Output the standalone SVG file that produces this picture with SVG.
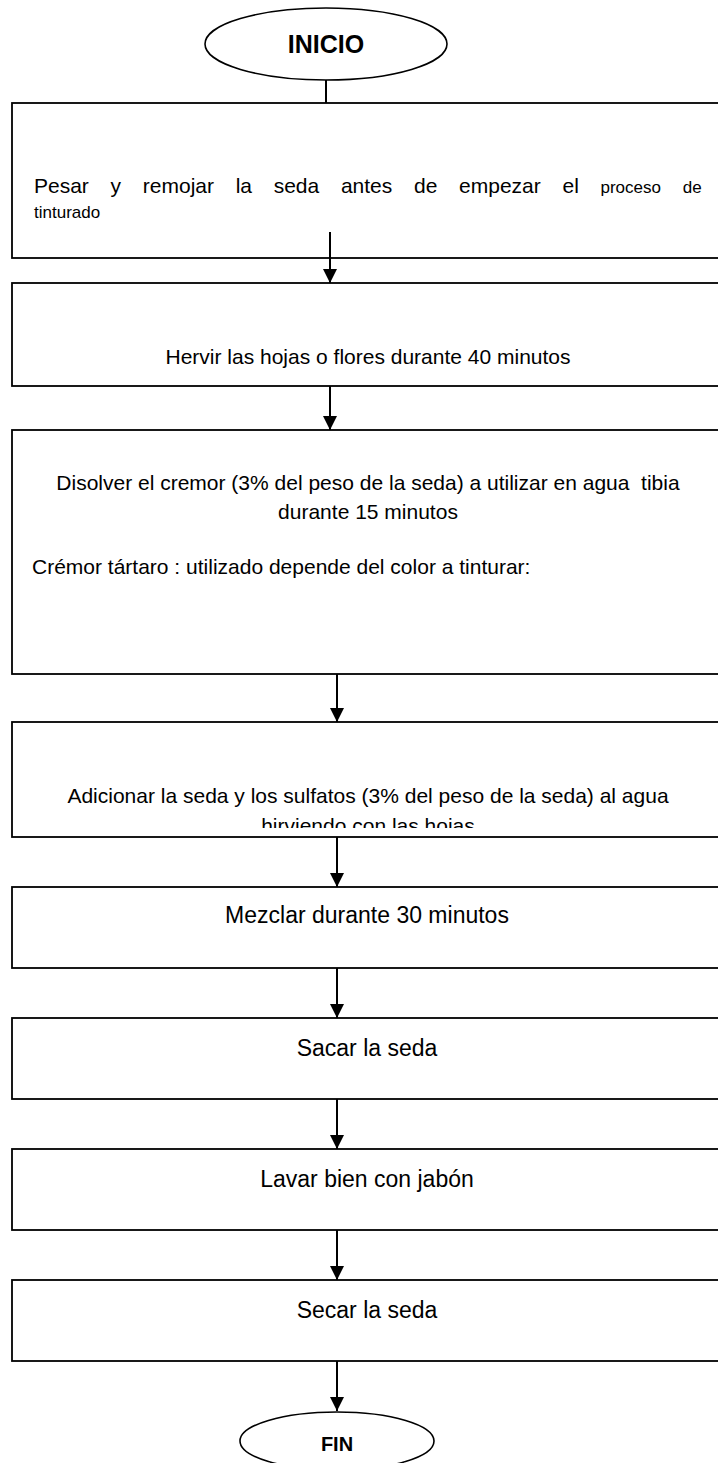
<svg xmlns="http://www.w3.org/2000/svg" width="718" height="1463" viewBox="0 0 718 1463">
<defs>
<style>
.box{fill:#fff;stroke:#000;stroke-width:1.8}
.term{fill:#fff;stroke:#000;stroke-width:1.6}
.conn{stroke:#000;stroke-width:2;fill:none}
.t{font-family:"Liberation Sans",Arial,sans-serif;fill:#000}
.s21{font-size:21px}
.s17{font-size:17px}
.big{font-size:23px}
.bold{font-weight:bold}
.mid{text-anchor:middle}
.pre{white-space:pre}
</style>
<marker id="ah" viewBox="0 0 14 14" refX="14" refY="7" markerWidth="14" markerHeight="14" markerUnits="userSpaceOnUse" orient="auto">
<path d="M0,0 L14,7 L0,14 z" fill="#000"/>
</marker>
<clipPath id="clip4"><rect x="0" y="722" width="718" height="106"/></clipPath>
</defs>
<rect width="718" height="1463" fill="#fff"/>

<g id="inicio">
<ellipse class="term" cx="326" cy="44" rx="121" ry="36"/>
<text class="t bold mid" x="326" y="53" font-size="25">INICIO</text>
</g>

<g id="step1">
<rect class="box" x="12" y="103" width="730" height="155"/>
<text class="t" y="193"><tspan class="s21" x="34">Pesar</tspan><tspan class="s21" x="110.6">y</tspan><tspan class="s21" x="142.8">remojar</tspan><tspan class="s21" x="235.7">la</tspan><tspan class="s21" x="273.7">seda</tspan><tspan class="s21" x="340.9">antes</tspan><tspan class="s21" x="414">de</tspan><tspan class="s21" x="459.1">empezar</tspan><tspan class="s21" x="562.5">el</tspan><tspan class="s17" x="600.5">proceso</tspan><tspan class="s17" x="682.7">de</tspan></text>
<text class="t s17" x="34" y="218">tinturado</text>
</g>

<g id="step2">
<rect class="box" x="12" y="283" width="730" height="103"/>
<text class="t s21 mid" x="368" y="364">Hervir las hojas o flores durante 40 minutos</text>
</g>

<g id="step3">
<rect class="box" x="12" y="430" width="730" height="244"/>
<text class="t s21 mid pre" x="368" y="490" xml:space="preserve">Disolver el cremor (3% del peso de la seda) a utilizar en agua  tibia</text>
<text class="t s21 mid" x="368" y="519">durante 15 minutos</text>
<text class="t s21" x="32" y="574">Crémor tártaro : utilizado depende del color a tinturar:</text>
</g>

<g id="step4">
<rect class="box" x="12" y="722" width="730" height="115"/>
<text class="t s21 mid" x="368" y="803">Adicionar la seda y los sulfatos (3% del peso de la seda) al agua</text>
<text class="t s21 mid" x="368" y="833" clip-path="url(#clip4)">hirviendo con las hojas</text>
</g>

<g id="step5">
<rect class="box" x="12" y="887" width="730" height="81"/>
<text class="t big mid" x="367" y="923">Mezclar durante 30 minutos</text>
</g>

<g id="step6">
<rect class="box" x="12" y="1018" width="730" height="81"/>
<text class="t big mid" x="367" y="1056">Sacar la seda</text>
</g>

<g id="step7">
<rect class="box" x="12" y="1149" width="730" height="81"/>
<text class="t big mid" x="367" y="1187">Lavar bien con jabón</text>
</g>

<g id="step8">
<rect class="box" x="12" y="1280" width="730" height="81"/>
<text class="t big mid" x="367" y="1318">Secar la seda</text>
</g>

<g id="fin">
<ellipse class="term" cx="337" cy="1441" rx="97" ry="29"/>
<text class="t bold mid" x="337" y="1451" font-size="20">FIN</text>
</g>

<g id="connectors">
<line class="conn" x1="326" y1="80" x2="326" y2="103"/>
<line class="conn" x1="330" y1="232" x2="330" y2="283" marker-end="url(#ah)"/>
<line class="conn" x1="330" y1="386" x2="330" y2="430" marker-end="url(#ah)"/>
<line class="conn" x1="337" y1="674" x2="337" y2="722" marker-end="url(#ah)"/>
<line class="conn" x1="337" y1="837" x2="337" y2="887" marker-end="url(#ah)"/>
<line class="conn" x1="337" y1="968" x2="337" y2="1018" marker-end="url(#ah)"/>
<line class="conn" x1="337" y1="1099" x2="337" y2="1149" marker-end="url(#ah)"/>
<line class="conn" x1="337" y1="1230" x2="337" y2="1280" marker-end="url(#ah)"/>
<line class="conn" x1="337" y1="1361" x2="337" y2="1411" marker-end="url(#ah)"/>
</g>
</svg>
